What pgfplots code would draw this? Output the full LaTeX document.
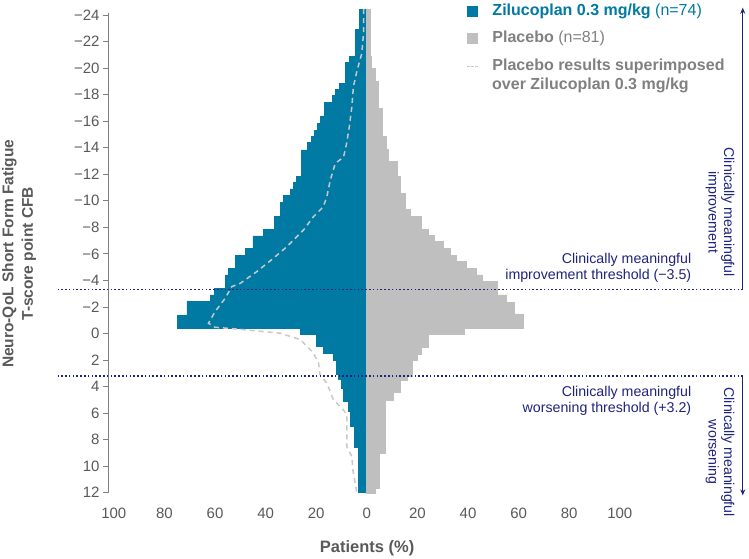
\documentclass[border=0pt]{standalone}
\usepackage{fontspec}
\setmainfont{Liberation Sans}
\usepackage{pgfplots}
\pgfplotsset{compat=1.18}
\usetikzlibrary{arrows.meta}
\definecolor{zblue}{RGB}{0,121,163}
\definecolor{pgray}{RGB}{191,191,191}
\definecolor{dgray}{RGB}{200,200,200}
\definecolor{navy}{RGB}{30,35,125}
\definecolor{txtgray}{RGB}{89,89,89}
\definecolor{leggray}{RGB}{128,128,128}
\definecolor{axgray}{RGB}{128,128,128}
\begin{document}
\begin{tikzpicture}
\path[use as bounding box] (0,0) rectangle (749bp,559bp);
\begin{axis}[
  at={(108bp,66.3bp)}, anchor=south west,
  scale only axis, width=635bp, height=477.7bp,
  xmin=-102.3, xmax=148.7, ymin=-24, ymax=12,
  y dir=reverse,
  clip=false,
  axis line style={draw=none},
  xtick={-100,-80,...,100},
  xticklabels={100,80,60,40,20,0,20,40,60,80,100},
  ytick={-24,-22,...,12},
  yticklabels={−24,−22,−20,−18,−16,−14,−12,−10,−8,−6,−4,−2,0,2,4,6,8,10,12},
  xtick style={draw=none},
  ytick pos=left,
  tick align=outside,
  major tick length=5bp,
  ytick style={axgray, line width=0.8bp},
  tick label style={txtgray, font=\fontsize{15bp}{18bp}\selectfont},
  xticklabel style={yshift=-7bp},
  legend style={at={(axis description cs:0.565,1.0251)}, anchor=north west,
    draw=none, fill=none, inner sep=0pt, row sep=11.5bp,
    font=\fontsize{16bp}{20bp}\selectfont,
    nodes={inner xsep=0pt, inner ysep=0pt, text height=12bp, text depth=4bp}},
  legend cell align=left,
]
% Zilucoplan (left side): lower edge of each interval in T-score, percent as negative value
\addplot[xbar interval, fill=zblue, draw=zblue, line width=0.8bp,
  legend image code/.code={\fill[zblue, draw=none] (0bp,-5.5bp) rectangle (11bp,5.5bp); \path[draw=none, fill=none] (0bp,0bp) -- (25bp,0bp);}]
  table[x=p, y=t] {
t p
-24.45 -2.9
-22.92 -4.5
-20.86 -6.9
-20.44 -8.3
-18.85 -10.9
-18.40 -12.5
-17.92 -13.6
-17.42 -16.9
-16.39 -18.2
-15.84 -19.5
-15.33 -20.8
-14.88 -22.0
-14.38 -23.5
-13.83 -26.0
-11.81 -27.7
-11.36 -29.0
-10.89 -30.3
-10.38 -33.0
-9.88 -34.3
-8.85 -36.6
-7.87 -40.9
-7.35 -45.0
-6.42 -47.8
-5.91 -51.8
-4.91 -54.7
-4.41 -56.0
-3.40 -60.2
-2.90 -61.9
-2.39 -71.1
-1.39 -74.9
-0.39 -26.4
0.09 -19.8
0.97 -17.2
1.47 -13.2
2.05 -11.9
3.11 -11.2
3.48 -9.9
4.11 -9.2
5.14 -7.3
5.90 -6.3
7.02 -5.0
8.58 -3.3
12.00 -3.3
};
\addlegendentry{\textcolor{zblue}{\textbf{Zilucoplan 0.3 mg/kg} (n=74)}}
% Placebo (right side)
\addplot[xbar interval, fill=pgray, draw=pgray, line width=0.8bp,
  legend image code/.code={\fill[pgray, draw=none] (0bp,-5.5bp) rectangle (11bp,5.5bp); \path[draw=none, fill=none] (0bp,0bp) -- (25bp,0bp);}]
  table[x=p, y=t] {
t p
-24.45 1.3
-20.86 2.0
-19.98 3.3
-18.97 4.6
-16.97 6.3
-14.88 7.6
-13.90 8.5
-12.94 11.9
-11.81 13.4
-10.56 15.1
-9.38 17.1
-8.85 21.7
-7.85 24.3
-7.42 26.6
-6.92 30.3
-6.42 32.9
-5.91 35.6
-5.41 39.2
-4.91 43.2
-4.41 45.8
-3.90 51.8
-2.90 55.3
-2.32 58.3
-1.47 61.9
-0.39 38.6
0.04 24.3
1.04 21.5
1.55 19.8
2.05 18.2
3.20 16.2
3.51 13.4
4.46 10.5
5.07 7.2
9.03 4.9
11.67 3.3
12.04 3.3
};
\addlegendentry{\textcolor{leggray}{\textbf{Placebo} (n=81)}}
% Placebo superimposed over Zilucoplan (mirrored)
\addplot[dgray, line width=1.5bp, dash pattern=on 5bp off 4bp,
  legend image code/.code={\draw[dgray, line width=1bp, dash pattern=on 2.2bp off 1.8bp] (0bp,0bp) -- (11bp,0bp); \path[draw=none, fill=none] (0bp,0bp) -- (25bp,0bp);}]
  coordinates {
(-1.3,-24.45) (-1.3,-22.6) (-2.0,-21.1) (-4.0,-19.7) (-5.3,-18.6) (-5.9,-17.1)
(-6.9,-15.6) (-8.0,-14.3) (-9.2,-13.3) (-12.5,-12.8) (-14.5,-11.5) (-15.8,-10.3)
(-17.2,-9.55) (-21.1,-8.8) (-25.0,-7.8) (-29.0,-7.04) (-31.6,-6.54) (-36.9,-5.67)
(-43.5,-4.66) (-50.0,-3.78) (-53.4,-3.53) (-56.0,-2.65) (-60.0,-1.64) (-62.6,-0.77)
(-60.0,-0.47) (-50.0,-0.31) (-34.3,-0.02) (-26.4,0.45) (-21.4,1.4) (-19.1,2.2)
(-18.5,3.1) (-15.8,3.75) (-14.5,4.36) (-13.2,5.0) (-9.2,5.77) (-7.9,6.14)
(-7.9,8.53) (-5.9,9.28) (-5.5,10.3) (-4.0,11.92)
};
\addlegendentry{\textcolor{leggray}{\textbf{Placebo results superimposed}}}
% second line of the third legend entry
\node[anchor=west, inner xsep=0pt, inner ysep=0pt, text height=12bp, text depth=4bp,
  font=\fontsize{16bp}{20bp}\selectfont\bfseries, leggray] at (axis description cs:0.6047,0.8514) {over Zilucoplan 0.3 mg/kg};
% y axis line
\draw[axgray, line width=0.8bp] (axis cs:-102.3,-24.15) -- (axis cs:-102.3,12);
% thresholds
\draw[navy, line width=1.3bp, dash pattern=on 1.6bp off 2.2bp] (axis cs:148.7,-3.3) -- ++(-685bp,0bp);
\draw[navy, line width=1.3bp, dash pattern=on 1.6bp off 2.2bp] (axis cs:148.7,3.2) -- ++(-685bp,0bp);
\draw[navy, line width=0.8bp, -{Stealth[length=6bp,width=5bp]}] (axis cs:148.6,-3.3) -- (axis cs:148.6,-24.55);
\draw[navy, line width=0.8bp, -{Stealth[length=6bp,width=5bp]}] (axis cs:148.6,3.2) -- (axis cs:148.6,12.2);
\node[navy, align=right, anchor=east, font=\fontsize{14.2bp}{16bp}\selectfont] at (axis description cs:0.924,0.4701) {Clinically meaningful\\improvement threshold (−3.5)};
\node[navy, align=right, anchor=east, font=\fontsize{14.2bp}{16bp}\selectfont] at (axis description cs:0.924,0.192) {Clinically meaningful\\worsening threshold (+3.2)};
\node[navy, align=center, rotate=-90, font=\fontsize{14.2bp}{15.5bp}\selectfont] at (axis description cs:0.964,0.587) {Clinically meaningful\\improvement};
\node[navy, align=center, rotate=-90, font=\fontsize{14.2bp}{15.5bp}\selectfont] at (axis description cs:0.964,0.0847) {Clinically meaningful\\worsening};
% axis titles
\node[txtgray, font=\bfseries\fontsize{16.5bp}{19bp}\selectfont] at (axis description cs:0.408,-0.1164) {Patients (\%)};
\node[txtgray, align=center, rotate=90, font=\bfseries\fontsize{15.5bp}{19.5bp}\selectfont] at (axis description cs:-0.140,0.5) {Neuro-QoL Short Form Fatigue\\T-score point CFB};
\end{axis}
\end{tikzpicture}
\end{document}
